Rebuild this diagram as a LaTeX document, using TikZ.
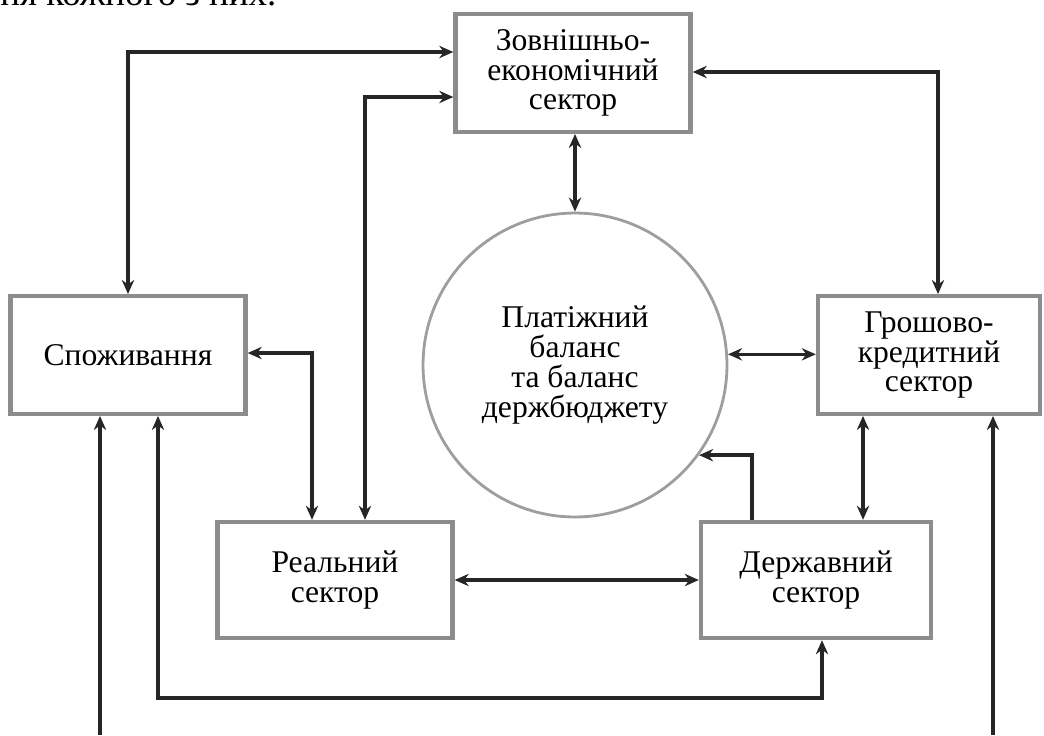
\documentclass[tikz,border=0pt]{standalone}
\usepackage{fontspec}
\setmainfont{Liberation Serif}
\usetikzlibrary{positioning, arrows.meta}
\tikzset{>={Stealth[length=8pt, width=7pt]},
        sector/.style={draw=black!45, line width=2.5pt, fill=white, align=center,
                minimum width=4.7cm, minimum height=2.35cm, font=\fontsize{18}{17}\selectfont},
        balance/.style={circle, draw=black!38, line width=1.6pt, minimum size=6.08cm,
                align=center, font=\fontsize{18}{17}\selectfont},
        link/.style={line width=2pt, draw=black!85},}

\begin{document}
\begin{tikzpicture}[x=0.02cm, y=-0.02cm]
        \useasboundingbox (0,0) rectangle (1044,735);
        \node[anchor=base west, inner sep=0pt, font=\fontsize{21}{21}\selectfont] (txt) at (0,5) {ня кожного з них.};

        \node[sector] (zes) at (573,73) {Зовнішньо-\\економічний\\сектор};
        \node[sector] (spoz) at (128,355) {Споживання};
        \node[sector, minimum width=4.44cm] (grosh) at (929,355) {Грошово-\\кредитний\\сектор};
        \node[sector, minimum height=2.32cm] (real) at (335,580) {Реальний\\сектор};
        \node[sector, minimum width=4.6cm, minimum height=2.32cm] (derzh) at (816,580) {Державний\\сектор};
        \node[balance] (bal) at (575,365) {Платіжний\\баланс\\та баланс\\держбюджету};

        \coordinate (bot) at (0,698);
        \coordinate (in1) at (100,735);
        \coordinate (in2) at (993,735);

        % links round the balance
        \draw[link, <->] (spoz.north) |- (zes.west |- 0,52);
        \draw[link, <->] (real.north -| 365,0) |- (zes.west |- 0,97);
        \draw[link, <->] (spoz.east |- 0,353) -| (real.north -| 312,0);
        \draw[link, <->] (zes.south -| bal.north) -- (bal.north);
        \draw[link, <->] (zes.east |- 0,72) -| (grosh.north -| 938,0);
        \draw[link, <->] (bal.4) -- (grosh.west |- bal.4);
        \draw[link, <->] (grosh.south -| 863,0) -- (derzh.north -| 863,0);
        \draw[link, ->] (derzh.north -| 752,0) |- (bal.-36);
        \draw[link, <->] (real.east) -- (derzh.west);
        \draw[link, <->] (spoz.south -| 158,0) |- (bot -| 822,0) -- (derzh.south -| 822,0);
        \draw[link, ->] (in1) -- (spoz.south -| in1);
        \draw[link, ->] (in2) -- (grosh.south -| in2);
\end{tikzpicture}
\end{document}
